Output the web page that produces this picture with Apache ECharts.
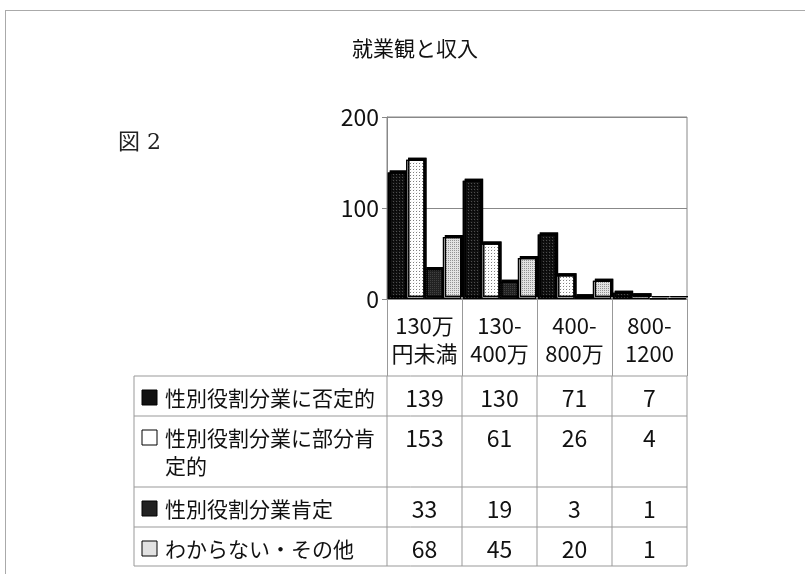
<!DOCTYPE html>
<html><head><meta charset="utf-8">
<script src="https://cdn.jsdelivr.net/npm/echarts@6/dist/echarts.min.js"></script>
<style>html,body{margin:0;padding:0;background:#fff}#c{width:805px;height:574px}</style>
</head><body><div id="c"></div>
<script>
// ---- data ----
const categories = ['130万\n円未満', '130-\n400万', '400-\n800万', '800-\n1200'];
const seriesNames = ['性別役割分業に否定的', '性別役割分業に部分肯定的', '性別役割分業肯定', 'わからない・その他'];
const legendLabels = ['性別役割分業に否定的', '性別役割分業に部分肯\n定的', '性別役割分業肯定', 'わからない・その他'];
const negative = [139, 130, 71, 7];
const partial = [153, 61, 26, 4];
const positive = [33, 19, 3, 1];
const other = [68, 45, 20, 1];
const yTicks = [0, 100, 200];

// ---- styles ----
const FONT = '"Noto Sans CJK JP", "Noto Sans", sans-serif';
const fills = ['#111111', '#ffffff', '#222222', '#e2e2e2'];
const decals = [
  {symbol: 'rect', color: 'rgba(85,85,85,0.9)', symbolSize: 1, dashArrayX: [1, 2], dashArrayY: [1, 2]},
  {symbol: 'rect', color: 'rgba(225,225,225,0.5)', symbolSize: 1, dashArrayX: [1, 2], dashArrayY: [1, 2]},
  {symbol: 'rect', color: 'rgba(80,80,80,0.8)', symbolSize: 1, dashArrayX: [1, 1], dashArrayY: [1, 1]},
  {symbol: 'rect', color: 'rgba(180,180,180,0.5)', symbolSize: 1, dashArrayX: [1, 1], dashArrayY: [1, 1]}
];
const allValues = [negative, partial, positive, other];
const lineColor = '#999';

const chart = echarts.init(document.getElementById('c'), null, {renderer: 'canvas'});
const option = {
  animation: false,
  backgroundColor: '#fff',
  title: {
    text: '就業観と収入', left: 410, top: 33, textAlign: 'center',
    textStyle: {fontFamily: FONT, fontSize: 21, fontWeight: 'normal', color: '#111'}
  },
  grid: {left: 387, right: 118, top: 117, bottom: 275, show: true, borderColor: '#888', borderWidth: 1},
  xAxis: {
    type: 'category', data: categories,
    axisLine: {lineStyle: {color: '#888', width: 1}},
    axisTick: {show: true, length: 77, lineStyle: {color: lineColor}},
    axisLabel: {interval: 0, fontFamily: FONT, fontSize: 22, lineHeight: 28, margin: 13, color: '#111'}
  },
  yAxis: {
    type: 'value', min: yTicks[0], max: yTicks[yTicks.length - 1], interval: yTicks[1] - yTicks[0],
    axisLine: {show: true, lineStyle: {color: '#888'}},
    axisTick: {show: true, length: 5, lineStyle: {color: '#888'}},
    axisLabel: {fontFamily: FONT, fontSize: 23, color: '#111', margin: 8},
    splitLine: {lineStyle: {color: '#888'}}
  },
  series: allValues.map((vals, i) => ({
    type: 'bar', name: seriesNames[i], data: vals,
    barGap: '0%', barCategoryGap: '2%',
    itemStyle: {
      color: fills[i], borderColor: '#000', borderWidth: 1.2,
      shadowColor: '#000', shadowBlur: 0, shadowOffsetX: 2, shadowOffsetY: -2,
      decal: decals[i]
    }
  }))
};
chart.setOption(option);

// ---- data table below the axis, aligned to the category axis ----
const centers = categories.map((_, i) => chart.convertToPixel({xAxisIndex: 0}, i));
const bandW = centers[1] - centers[0];
const colEdges = [centers[0] - bandW / 2].concat(centers.map(c => c + bandW / 2));
const baseY = chart.convertToPixel({yAxisIndex: 0}, 0);
const headerH = 77;
const rowHeights = [40, 71, 40, 39];
const rowTops = [baseY + headerH];
rowHeights.forEach(h => rowTops.push(rowTops[rowTops.length - 1] + h));
const tableLeft = 134;
const tableRight = colEdges[colEdges.length - 1];

const g = [];
// outer frame (top and left)
g.push({type: 'line', shape: {x1: 5, y1: 10.5, x2: 805, y2: 10.5}, style: {stroke: '#aaa', lineWidth: 1}});
g.push({type: 'line', shape: {x1: 5.5, y1: 10, x2: 5.5, y2: 574}, style: {stroke: '#aaa', lineWidth: 1}});
// figure label
g.push({type: 'text', x: 118, y: 143, style: {text: '図 2', font: '22px "DejaVu Serif", "Noto Sans CJK JP", serif', fill: '#222', textVerticalAlign: 'middle'}});
// horizontal table lines
rowTops.forEach(y => g.push({type: 'line', shape: {x1: tableLeft, y1: y, x2: tableRight, y2: y}, style: {stroke: lineColor, lineWidth: 1}}));
// vertical lines
g.push({type: 'line', shape: {x1: tableLeft, y1: rowTops[0], x2: tableLeft, y2: rowTops[rowTops.length - 1]}, style: {stroke: lineColor, lineWidth: 1}});
colEdges.forEach(x => g.push({type: 'line', shape: {x1: x, y1: rowTops[0], x2: x, y2: rowTops[rowTops.length - 1]}, style: {stroke: lineColor, lineWidth: 1}}));
// rows
allValues.forEach((vals, r) => {
  const top = rowTops[r];
  g.push({type: 'rect', shape: {x: 142, y: top + 14, width: 15, height: 15}, style: {fill: fills[r], stroke: '#000', lineWidth: 1}});
  g.push({type: 'text', x: 165, y: top + 8, style: {text: legendLabels[r], font: '21px ' + FONT, fill: '#111', lineHeight: 28, textVerticalAlign: 'top'}});
  vals.forEach((v, c) => {
    g.push({type: 'text', x: centers[c], y: top + 22, style: {text: String(v), font: '23px ' + FONT, fill: '#111', textAlign: 'center', textVerticalAlign: 'middle'}});
  });
});
chart.setOption({graphic: g});
</script>
</body></html>
